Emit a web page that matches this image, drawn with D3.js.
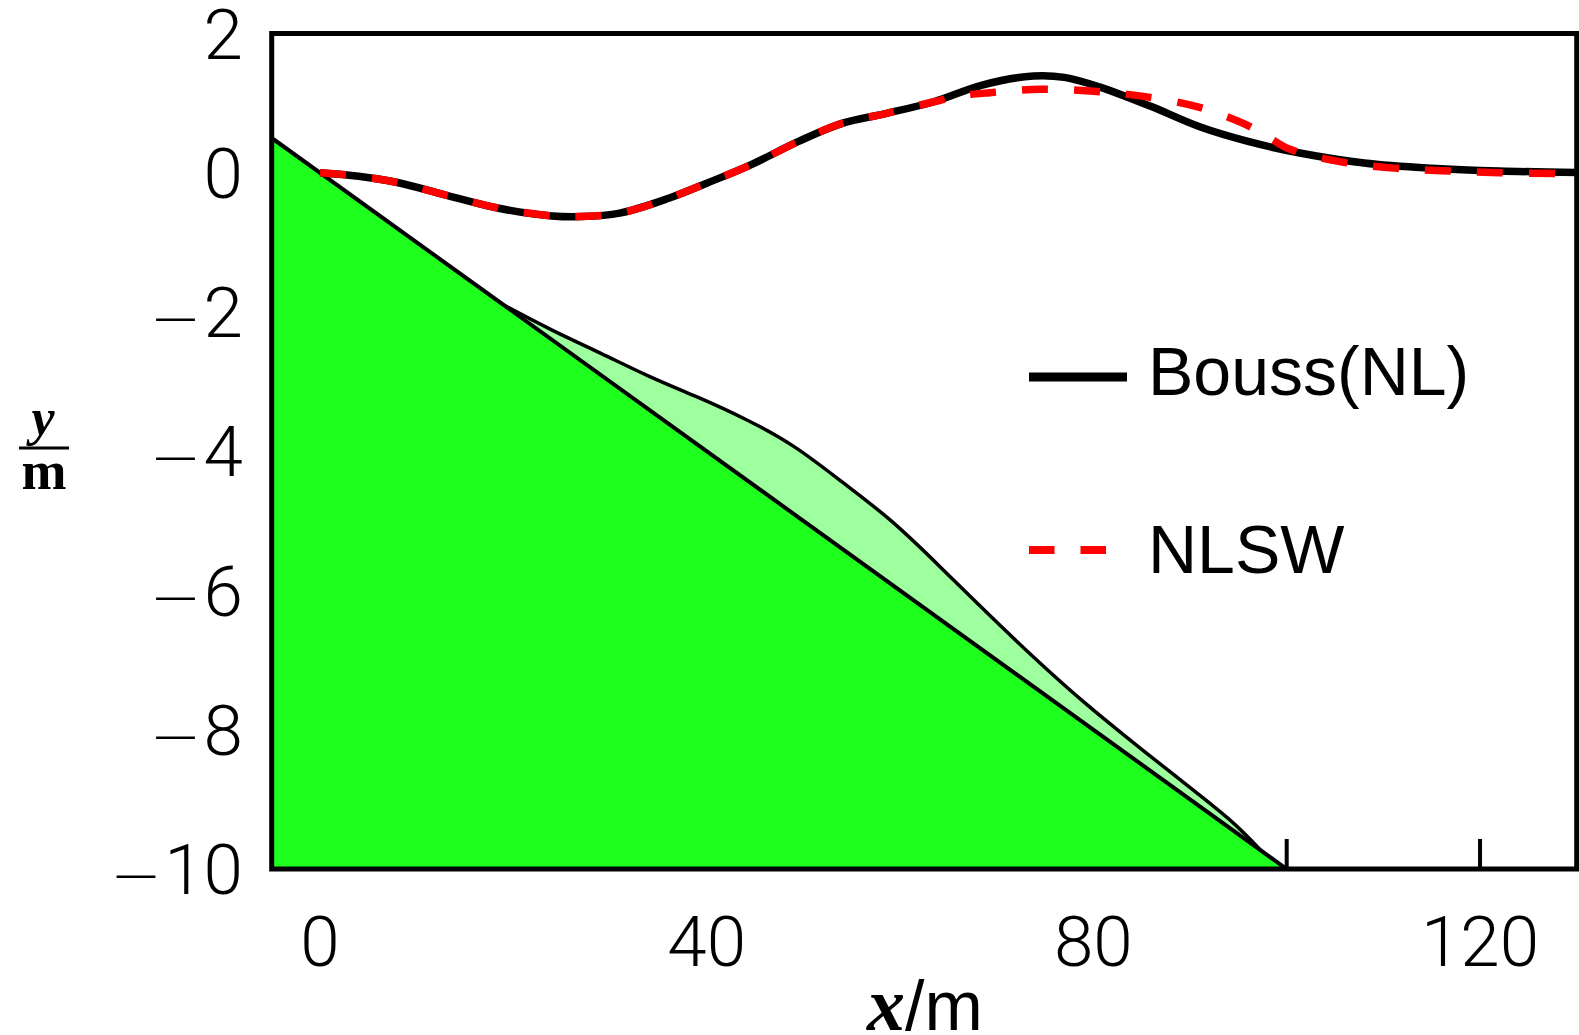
<!DOCTYPE html>
<html>
<head>
<meta charset="utf-8">
<script src="https://cdn.jsdelivr.net/npm/d3@7"></script>
<style>
  html, body { margin: 0; padding: 0; background: #fff; }
  svg { display: block; }
</style>
</head>
<body>
<svg id="chart" width="1579" height="1035"></svg>
<script>
// ---------------- data ----------------
const xTicks = [0, 20, 40, 60, 80, 100, 120];
const xTickLabels = [0, 40, 80, 120];
const yTicks = [-10, -8, -6, -4, -2, 0, 2];

// bathymetry (sloping bottom)
const bathyX = [-5, 100];
const bathyY = [0.5, -10];

// landslide upper surface
const slideX   = [19, 24, 29, 34, 39, 44, 49, 54, 59, 64, 69, 74, 79, 84, 89, 94, 97.3];
const slideTop = [-1.90, -2.26, -2.59, -2.92, -3.22, -3.54, -3.93, -4.44, -4.99, -5.64, -6.32, -6.98, -7.60, -8.17, -8.72, -9.28, -9.73];

// free surface, Boussinesq (NL)
const boussX = [0, 4, 8, 13, 18.5, 24, 27, 31, 36, 40, 44.5, 49.5, 54, 58.5, 63.5, 68.5, 73.8, 77, 80.7, 86, 91, 96, 101.5, 108, 115, 122, 130];
const boussY = [0, -0.05, -0.14, -0.32, -0.51, -0.62, -0.63, -0.58, -0.37, -0.15, 0.11, 0.45, 0.71, 0.85, 1.02, 1.26, 1.39, 1.37, 1.23, 0.95, 0.66, 0.45, 0.28, 0.14, 0.065, 0.025, 0.005];

// free surface, NLSW
const nlswX = [0, 4, 8, 13, 18.5, 24, 27, 31, 36, 40, 44.5, 49.5, 54, 58.5, 63.5, 66, 69.3, 74.5, 80, 85, 90.7, 95.5, 98, 100.3, 105.5, 110.7, 116, 122, 128.5];
const nlswY = [0, -0.05, -0.14, -0.32, -0.51, -0.62, -0.63, -0.58, -0.37, -0.15, 0.11, 0.45, 0.71, 0.85, 1.02, 1.10, 1.15, 1.20, 1.17, 1.10, 0.95, 0.71, 0.52, 0.34, 0.16, 0.07, 0.03, 0.0, -0.01];

const seriesNames = ["Bouss(NL)", "NLSW"];

// ---------------- layout ----------------
const svg = d3.select("#chart");
const x = d3.scaleLinear().domain([-5, 130]).range([271.7, 1576.7]);
const y = d3.scaleLinear().domain([-10, 2]).range([869, 33.5]);

const GREEN = "#1eff1e", LIGHTGREEN = "#9eff9e";
const smooth = d3.curveCatmullRom.alpha(0.5);
const slideCurve = d3.curveNatural;

svg.append("defs").append("clipPath").attr("id", "clip")
  .append("rect").attr("x", x(-5)).attr("y", y(2))
  .attr("width", x(130) - x(-5)).attr("height", y(-10) - y(2));

const plot = svg.append("g").attr("clip-path", "url(#clip)");

// inner ticks (drawn first; the bottom fill hides those underneath it)
plot.append("g").selectAll("line").data(xTicks).join("line")
  .attr("x1", d => x(d)).attr("x2", d => x(d))
  .attr("y1", y(-10)).attr("y2", y(-10) - 30)
  .attr("stroke", "#000").attr("stroke-width", 4);
plot.append("g").selectAll("line").data(yTicks).join("line")
  .attr("x1", x(-5)).attr("x2", x(-5) + 30)
  .attr("y1", d => y(d)).attr("y2", d => y(d))
  .attr("stroke", "#000").attr("stroke-width", 4);

// bottom (solid ground)
const bathyPts = bathyX.map((d, i) => [d, bathyY[i]]);
plot.append("path")
  .datum(bathyPts)
  .attr("d", d3.area().x(d => x(d[0])).y0(y(-10)).y1(d => y(d[1])))
  .attr("fill", GREEN);

// landslide
const bottomAt = d3.scaleLinear().domain(bathyX).range(bathyY);
const slidePts = slideX.map((d, i) => [d, slideTop[i]]);
plot.append("path")
  .datum(slidePts)
  .attr("d", d3.area().curve(slideCurve)
    .x(d => x(d[0])).y0(d => y(bottomAt(d[0]))).y1(d => y(d[1])))
  .attr("fill", LIGHTGREEN);
plot.append("path")
  .datum(slidePts)
  .attr("d", d3.line().curve(slideCurve).x(d => x(d[0])).y(d => y(d[1])))
  .attr("fill", "none").attr("stroke", "#000").attr("stroke-width", 3.5);

// slope line
plot.append("path")
  .datum(bathyPts)
  .attr("d", d3.line().x(d => x(d[0])).y(d => y(d[1])))
  .attr("fill", "none").attr("stroke", "#000").attr("stroke-width", 4);

// free surfaces
const surf = d3.line().curve(smooth).x(d => x(d[0])).y(d => y(d[1]));
plot.append("path")
  .datum(boussX.map((d, i) => [d, boussY[i]]))
  .attr("d", surf)
  .attr("fill", "none").attr("stroke", "#000").attr("stroke-width", 7.5);
plot.append("path")
  .datum(nlswX.map((d, i) => [d, nlswY[i]]))
  .attr("d", surf)
  .attr("fill", "none").attr("stroke", "#ff0000").attr("stroke-width", 7.5)
  .attr("stroke-dasharray", "26,26");

// frame
svg.append("rect")
  .attr("x", x(-5)).attr("y", y(2))
  .attr("width", x(130) - x(-5)).attr("height", y(-10) - y(2))
  .attr("fill", "none").attr("stroke", "#000").attr("stroke-width", 5);

// tick labels
const tickFont = "Roboto, 'Liberation Sans', sans-serif";
svg.append("g").selectAll("text").data(xTickLabels).join("text")
  .attr("x", d => x(d)).attr("y", 966)
  .attr("text-anchor", "middle")
  .attr("font-family", tickFont).attr("font-weight", 300)
  .attr("font-size", 71).attr("fill", "#000")
  .text(d => d);

const yl = svg.append("g").selectAll("text").data(yTicks).join("text")
  .attr("x", 243).attr("y", d => y(d) + 25)
  .attr("text-anchor", "end")
  .attr("font-family", tickFont).attr("font-weight", 300)
  .attr("font-size", 71).attr("fill", "#000");
yl.each(function(d) {
  const t = d3.select(this);
  if (d < 0) {
    t.append("tspan").attr("font-family", "'DejaVu Sans', sans-serif")
      .attr("font-size", 62).attr("font-weight", 300).attr("dy", 2).text("\u2212");
    t.append("tspan").attr("dy", -2).attr("dx", 2).text(Math.abs(d));
  } else {
    t.append("tspan").text(d);
  }
});

// axis titles
const xt = svg.append("text").attr("x", 867).attr("y", 1030).attr("fill", "#000");
xt.append("tspan").attr("font-family", "'Liberation Serif', 'DejaVu Serif', serif")
  .attr("font-style", "italic").attr("font-weight", "bold").attr("font-size", 76).text("x");
xt.append("tspan").attr("font-family", "'Liberation Sans', Arial, sans-serif")
  .attr("font-size", 70).text("/m");

svg.append("text").attr("x", 43).attr("y", 435).attr("text-anchor", "middle")
  .attr("font-family", "'Liberation Serif', 'DejaVu Serif', serif")
  .attr("font-style", "italic").attr("font-weight", "bold").attr("font-size", 52)
  .text("y");
svg.append("line").attr("x1", 19).attr("x2", 69).attr("y1", 448).attr("y2", 448)
  .attr("stroke", "#000").attr("stroke-width", 3);
svg.append("text").attr("x", 44).attr("y", 489).attr("text-anchor", "middle")
  .attr("font-family", "'Liberation Serif', 'DejaVu Serif', serif")
  .attr("font-weight", "bold").attr("font-size", 54)
  .text("m");

// legend
const legend = svg.append("g");
const legY = [377, 550];
const legTextY = [395, 573];
legend.append("line").attr("x1", 1029).attr("x2", 1127).attr("y1", legY[0]).attr("y2", legY[0])
  .attr("stroke", "#000").attr("stroke-width", 9);
legend.append("line").attr("x1", 1029).attr("x2", 1128).attr("y1", legY[1]).attr("y2", legY[1])
  .attr("stroke", "#ff0000").attr("stroke-width", 8).attr("stroke-dasharray", "25.5,26");
legend.selectAll("text").data(seriesNames).join("text")
  .attr("x", 1148).attr("y", (d, i) => legTextY[i])
  .attr("font-family", "'Liberation Sans', Arial, sans-serif")
  .attr("font-size", 68).attr("fill", "#000")
  .text(d => d);
</script>
</body>
</html>
